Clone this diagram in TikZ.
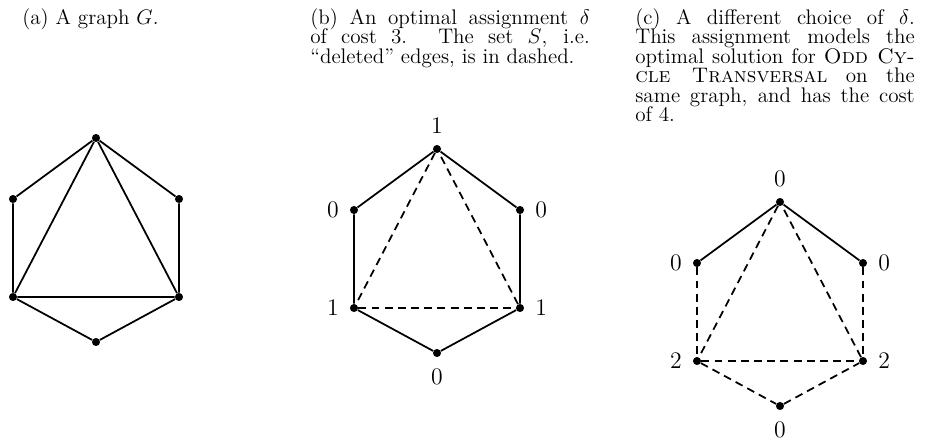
\documentclass[tikz,border=0pt]{standalone}
\usetikzlibrary{positioning}

\newcommand{\captfont}{\fontsize{12}{11.1}\selectfont\lineskiplimit=-20pt\relax}

\begin{document}
\begin{tikzpicture}[
  vtx/.style={circle, fill=black, inner sep=0pt, minimum size=4.6pt},
  edge/.style={line width=1pt},
  deleted/.style={edge, dash pattern=on 4.5pt off 3pt},
  lab/.style={font=\fontsize{13.5}{16}\selectfont, label distance=2.7pt},
  capt/.style={anchor=north west, inner sep=0pt, text width=159pt, align=justify,
               font=\captfont},
]
  \useasboundingbox (0,0) rectangle (18.64,-8.82);

  % ---- Captions ----
  \node[capt] (capa) at (0.44,-0.16)  {(a) A graph $G$.};
  \node[capt] (capb) at (6.20,-0.16)  {(b) An optimal assignment $\delta$\linebreak
    of cost 3. The set $S$, i.e.\linebreak ``deleted'' edges, is in dashed.};
  \node[capt] (capc) at (12.70,-0.16) {(c) A different choice of $\delta$.\linebreak
    This assignment models the\linebreak optimal solution for \textsc{Odd Cy-}\linebreak
    \textsc{cle Transversal} on the\linebreak same graph, and has the cost\linebreak of 4.};

  % ---- (a) the graph G ----
  \begin{scope}[shift={(1.92,-2.76)}]
    \node[vtx] (at)  at (0,0)         {};
    \node[vtx] (aul) at (-1.66,-1.22) {};
    \node[vtx] (aur) at (1.66,-1.22)  {};
    \node[vtx] (all) at (-1.66,-3.18) {};
    \node[vtx] (alr) at (1.66,-3.18)  {};
    \node[vtx] (ab)  at (0,-4.08)     {};
  \end{scope}
  \draw[edge] (at) -- (aul) -- (all) -- (ab) -- (alr) -- (aur) -- (at);
  \draw[edge] (at) -- (all) -- (alr) -- (at);

  % ---- (b) optimal assignment, cost 3 ----
  \begin{scope}[shift={(8.74,-2.98)}]
    \node[vtx, label={[lab]above:1}] (bt)  at (0,0)         {};
    \node[vtx, label={[lab]left:0}]  (bul) at (-1.66,-1.22) {};
    \node[vtx, label={[lab]right:0}] (bur) at (1.66,-1.22)  {};
    \node[vtx, label={[lab]left:1}]  (bll) at (-1.66,-3.18) {};
    \node[vtx, label={[lab]right:1}] (blr) at (1.66,-3.18)  {};
    \node[vtx, label={[lab]below:0}] (bb)  at (0,-4.08)     {};
  \end{scope}
  \draw[edge] (bt) -- (bul) -- (bll) -- (bb) -- (blr) -- (bur) -- (bt);
  \draw[deleted] (bt) -- (bll);
  \draw[deleted] (bll) -- (blr);
  \draw[deleted] (blr) -- (bt);

  % ---- (c) odd cycle transversal, cost 4 ----
  \begin{scope}[shift={(15.60,-4.04)}]
    \node[vtx, label={[lab]above:0}] (ct)  at (0,0)         {};
    \node[vtx, label={[lab]left:0}]  (cul) at (-1.66,-1.22) {};
    \node[vtx, label={[lab]right:0}] (cur) at (1.66,-1.22)  {};
    \node[vtx, label={[lab]left:2}]  (cll) at (-1.66,-3.18) {};
    \node[vtx, label={[lab]right:2}] (clr) at (1.66,-3.18)  {};
    \node[vtx, label={[lab]below:0}] (cb)  at (0,-4.08)     {};
  \end{scope}
  \draw[edge] (cul) -- (ct) -- (cur);
  \draw[deleted] (cul) -- (cll);
  \draw[deleted] (cur) -- (clr);
  \draw[deleted] (cll) -- (cb);
  \draw[deleted] (cb) -- (clr);
  \draw[deleted] (ct) -- (cll);
  \draw[deleted] (cll) -- (clr);
  \draw[deleted] (clr) -- (ct);
\end{tikzpicture}
\end{document}
